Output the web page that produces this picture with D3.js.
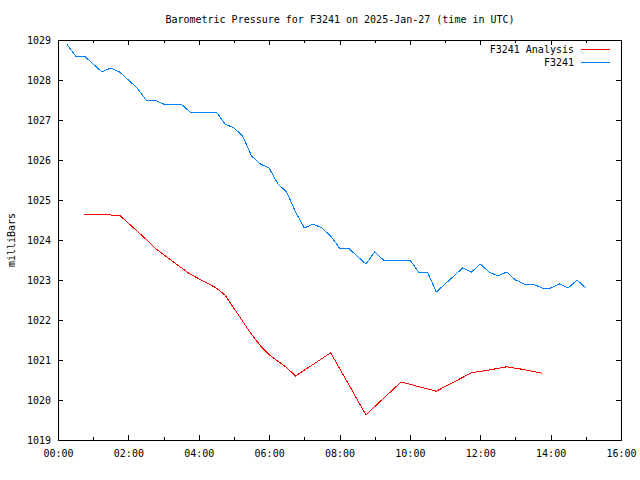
<!DOCTYPE html>
<html>
<head>
<meta charset="utf-8">
<script src="https://cdn.jsdelivr.net/npm/d3@7/dist/d3.min.js"></script>
<style>
  html, body { margin: 0; padding: 0; background: #fff; }
  svg { display: block; }
  text { font-family: "DejaVu Sans Mono", monospace; font-size: 10px; fill: #000; }
</style>
</head>
<body>
<svg id="chart" width="640" height="480"></svg>
<script>
// ---- data ----
const titleText = "Barometric Pressure for F3241 on 2025-Jan-27 (time in UTC)";
const yLabel = "milliBars";
const seriesNames = ["F3241 Analysis", "F3241"];
const seriesColors = ["#ff0000", "#0080ff"];

const xTickLabels = ["00:00","02:00","04:00","06:00","08:00","10:00","12:00","14:00","16:00"];
const xMinorTicks = ["01:00","03:00","05:00","07:00","09:00","11:00","13:00","15:00"];
const yTicks = [1019,1020,1021,1022,1023,1024,1025,1026,1027,1028,1029];

const obsTimes = ["00:15","00:30","00:45","01:00","01:15","01:30","01:45","02:00","02:15","02:30",
  "02:45","03:00","03:15","03:30","03:45","04:00","04:15","04:30","04:45","05:00",
  "05:15","05:30","05:45","06:00","06:15","06:30","06:45","07:00","07:15","07:30",
  "07:45","08:00","08:15","08:30","08:45","09:00","09:15","09:30","09:45","10:00",
  "10:15","10:30","10:45","11:00","11:15","11:30","11:45","12:00","12:15","12:30",
  "12:45","13:00","13:15","13:30","13:45","14:00","14:15","14:30","14:45","15:00"];
const obsValues = [1028.9,1028.6,1028.6,1028.4,1028.2,1028.3,1028.2,1028.0,1027.8,1027.5,
  1027.5,1027.4,1027.4,1027.4,1027.2,1027.2,1027.2,1027.2,1026.9,1026.8,
  1026.6,1026.1,1025.9,1025.8,1025.4,1025.2,1024.7,1024.3,1024.4,1024.3,
  1024.1,1023.8,1023.8,1023.6,1023.4,1023.7,1023.5,1023.5,1023.5,1023.5,
  1023.2,1023.2,1022.7,1022.9,1023.1,1023.3,1023.2,1023.4,1023.2,1023.1,
  1023.2,1023.0,1022.9,1022.9,1022.8,1022.8,1022.9,1022.8,1023.0,1022.8];

const anaTimes = ["00:45","01:45","02:00","02:30","02:45","03:15","03:45","04:30","04:45",
  "05:30","05:45","06:00","06:15","06:30","06:45","07:45","08:45","09:45","10:45",
  "11:45","12:15","12:45","13:15","13:45"];
const anaValues = [1024.64,1024.62,1024.42,1024.02,1023.80,1023.47,1023.15,1022.80,1022.62,
  1021.64,1021.36,1021.13,1020.97,1020.81,1020.60,1021.18,1019.63,1020.45,1020.22,
  1020.68,1020.75,1020.83,1020.76,1020.67];

// ---- helpers ----
const toH = s => { const [h, m] = s.split(":").map(Number); return h + m / 60; };

const svg = d3.select("#chart");
svg.append("rect").attr("width", 640).attr("height", 480).attr("fill", "#fff");

const L = 58, R = 621, T = 40, B = 440;
const x = d3.scaleLinear().domain([0, 16]).range([L, R]);
const y = d3.scaleLinear().domain([1019, 1029]).range([B, T]);

const major = 5, minor = 3;

function styleAxis(g) {
  g.select(".domain").remove();
  g.selectAll("line").attr("stroke", "#000").attr("shape-rendering", "crispEdges");
  g.selectAll("text").attr("font-family", "DejaVu Sans Mono").attr("font-size", 10).attr("fill", "#000");
}

// bottom axis
svg.append("g").attr("transform", `translate(0,${B})`)
  .call(d3.axisBottom(x).tickValues(xTickLabels.map(toH)).tickFormat((d, i) => xTickLabels[i])
    .tickSize(-major).tickPadding(10))
  .call(styleAxis);
svg.append("g").attr("transform", `translate(0,${B})`)
  .call(d3.axisBottom(x).tickValues(xMinorTicks.map(toH)).tickFormat("").tickSize(-minor))
  .call(styleAxis);
// top axis (mirror)
svg.append("g").attr("transform", `translate(0,${T})`)
  .call(d3.axisTop(x).tickValues(xTickLabels.map(toH)).tickFormat("").tickSize(-major))
  .call(styleAxis);
svg.append("g").attr("transform", `translate(0,${T})`)
  .call(d3.axisTop(x).tickValues(xMinorTicks.map(toH)).tickFormat("").tickSize(-minor))
  .call(styleAxis);
// left axis
svg.append("g").attr("transform", `translate(${L},0)`)
  .call(d3.axisLeft(y).tickValues(yTicks).tickFormat(d3.format("d")).tickSize(-major).tickPadding(7))
  .call(styleAxis);
// right axis (mirror)
svg.append("g").attr("transform", `translate(${R},0)`)
  .call(d3.axisRight(y).tickValues(yTicks).tickFormat("").tickSize(-major))
  .call(styleAxis);

// border
svg.append("rect").attr("x", L + 0.5).attr("y", T + 0.5)
  .attr("width", R - L).attr("height", B - T)
  .attr("fill", "none").attr("stroke", "#000").attr("stroke-width", 1)
  .attr("shape-rendering", "crispEdges");

// lines
const line = d3.line().x(d => x(d[0])).y(d => y(d[1]));
const anaData = anaTimes.map((t, i) => [toH(t), anaValues[i]]);
const obsData = obsTimes.map((t, i) => [toH(t), obsValues[i]]);

svg.append("path").datum(anaData).attr("d", line)
  .attr("fill", "none").attr("stroke", seriesColors[0]).attr("stroke-width", 1)
  .attr("shape-rendering", "crispEdges");
svg.append("path").datum(obsData).attr("d", line)
  .attr("fill", "none").attr("stroke", seriesColors[1]).attr("stroke-width", 1)
  .attr("shape-rendering", "crispEdges");

// title
svg.append("text").attr("x", 340).attr("y", 23).attr("text-anchor", "middle").text(titleText);

// y label
svg.append("text").attr("transform", "translate(15,240) rotate(-90)")
  .attr("text-anchor", "middle").text(yLabel);

// legend
seriesNames.forEach((name, i) => {
  const ly = 49 + i * 13;
  svg.append("text").attr("x", 574).attr("y", ly + 4).attr("text-anchor", "end").text(name);
  svg.append("line").attr("x1", 581).attr("x2", 610).attr("y1", ly + 0.5).attr("y2", ly + 0.5)
    .attr("stroke", seriesColors[i]).attr("stroke-width", 1).attr("shape-rendering", "crispEdges");
});
</script>
</body>
</html>
